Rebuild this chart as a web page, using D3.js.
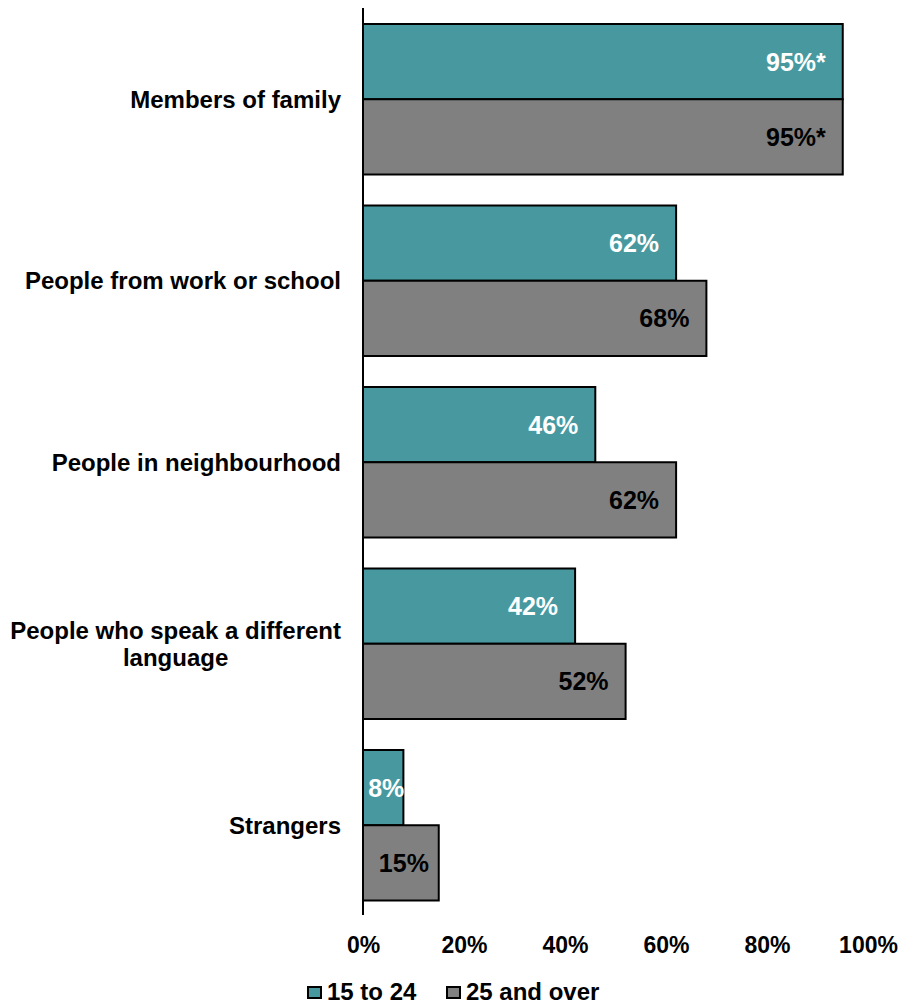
<!DOCTYPE html>
<html>
<head>
<meta charset="utf-8">
<script src="https://cdn.jsdelivr.net/npm/d3@7"></script>
<style>
  html, body { margin: 0; padding: 0; background: #fff; }
  svg text { font-family: "Liberation Sans", Arial, sans-serif; font-weight: bold; }
</style>
</head>
<body>
<svg id="chart" width="902" height="1003"></svg>
<script>
// Who respondents talk to, by age group (share, %)
const categories = [
  "Members of family",
  "People from work or school",
  "People in neighbourhood",
  "People who speak a different language",
  "Strangers"
];
const youngValues = [95, 62, 46, 42, 8];   // 15 to 24
const olderValues = [95, 68, 62, 52, 15];  // 25 and over
const valueLabels = {
  young: ["95%*", "62%", "46%", "42%", "8%"],
  older: ["95%*", "68%", "62%", "52%", "15%"]
};
const seriesNames = ["15 to 24", "25 and over"];
const tickValues = [0, 20, 40, 60, 80, 100];

const colors = ["#47999F", "#808080"];
const labelColors = ["#ffffff", "#000000"];

const svg = d3.select("#chart");

const x = d3.scaleLinear().domain([0, 100]).range([363, 868]);
const y = d3.scaleBand().domain(categories).range([8.5, 916])
  .paddingInner(31 / 181.5).paddingOuter(15.5 / 181.5);

const series = [
  { key: "young", values: youngValues },
  { key: "older", values: olderValues }
];

const rows = categories.map((c, i) => ({
  cat: c,
  bars: series.map((s, j) => ({ key: s.key, idx: j, value: s.values[i], label: valueLabels[s.key][i] }))
}));

const barH = y.bandwidth() / 2;

const groups = svg.selectAll("g.row").data(rows).join("g")
  .attr("class", "row")
  .attr("transform", d => `translate(0,${y(d.cat)})`);

groups.selectAll("rect").data(d => d.bars).join("rect")
  .attr("x", x(0))
  .attr("y", d => d.idx * barH)
  .attr("width", d => x(d.value) - x(0))
  .attr("height", barH)
  .attr("fill", d => colors[d.idx])
  .attr("stroke", "#000")
  .attr("stroke-width", 2);

// value labels: inside the bar end, or centred when the bar is too short
const pad = 17;
groups.selectAll("text.val").data(d => d.bars).join("text")
  .attr("class", "val")
  .attr("y", d => d.idx * barH + barH / 2)
  .attr("dy", "0.36em")
  .attr("font-size", 25)
  .attr("fill", d => labelColors[d.idx])
  .text(d => d.label)
  .each(function (d) {
    const w = this.getComputedTextLength();
    const bw = x(d.value) - x(0);
    const t = d3.select(this);
    if (bw >= w + 2 * pad) {
      t.attr("text-anchor", "end").attr("x", x(d.value) - pad);
    } else {
      t.attr("text-anchor", "middle").attr("x", x(0) + bw / 2 + 3);
    }
  });

// category labels, wrapped to two lines where needed
const catLabels = svg.append("g").selectAll("text").data(categories).join("text")
  .attr("text-anchor", "middle")
  .attr("font-size", 24)
  .attr("fill", "#000");

catLabels.each(function (d) {
  const t = d3.select(this);
  const cy = y(d) + y.bandwidth() / 2;
  const lines = d === "People who speak a different language"
    ? ["People who speak a different", "language"] : [d];
  const lh = 27;
  const y0 = cy - (lines.length - 1) * lh / 2;
  t.selectAll("tspan").data(lines).join("tspan")
    .attr("dy", (l, k) => k === 0 ? "0.36em" : lh)
    .text(l => l);
  const widths = [];
  t.selectAll("tspan").each(function () { widths.push(this.getComputedTextLength()); });
  const maxW = d3.max(widths);
  // the widest line ends at x=341; other lines are centred under it
  const cx = 341 - maxW / 2;
  t.selectAll("tspan").attr("x", cx);
  t.select("tspan").attr("y", y0);
});

// vertical axis line
svg.append("line")
  .attr("x1", x(0)).attr("x2", x(0))
  .attr("y1", 8).attr("y2", 915)
  .attr("stroke", "#000").attr("stroke-width", 2);

const xAxis = d3.axisBottom(x).tickValues(tickValues).tickSize(0).tickPadding(0)
  .tickFormat(d => d + "%");
const xg = svg.append("g").attr("transform", "translate(0,945)").call(xAxis);
xg.select(".domain").remove();
xg.selectAll("text")
  .attr("y", 0).attr("dy", "0.36em")
  .attr("font-size", 23)
  .attr("fill", "#000")
  .style("font-family", '"Liberation Sans", Arial, sans-serif')
  .style("font-weight", "bold");

// legend
const legend = svg.append("g").attr("transform", "translate(0,992)");
const legendX = [308, 447];
const lg = legend.selectAll("g").data(seriesNames).join("g")
  .attr("transform", (d, i) => `translate(${legendX[i]},0)`);
lg.append("rect")
  .attr("x", 0).attr("y", -5).attr("width", 13).attr("height", 11)
  .attr("fill", (d, i) => colors[i])
  .attr("stroke", "#000").attr("stroke-width", 2);
lg.append("text")
  .attr("x", 19).attr("y", 0).attr("dy", "0.33em")
  .attr("font-size", 24).attr("fill", "#000")
  .text(d => d);
</script>
</body>
</html>
